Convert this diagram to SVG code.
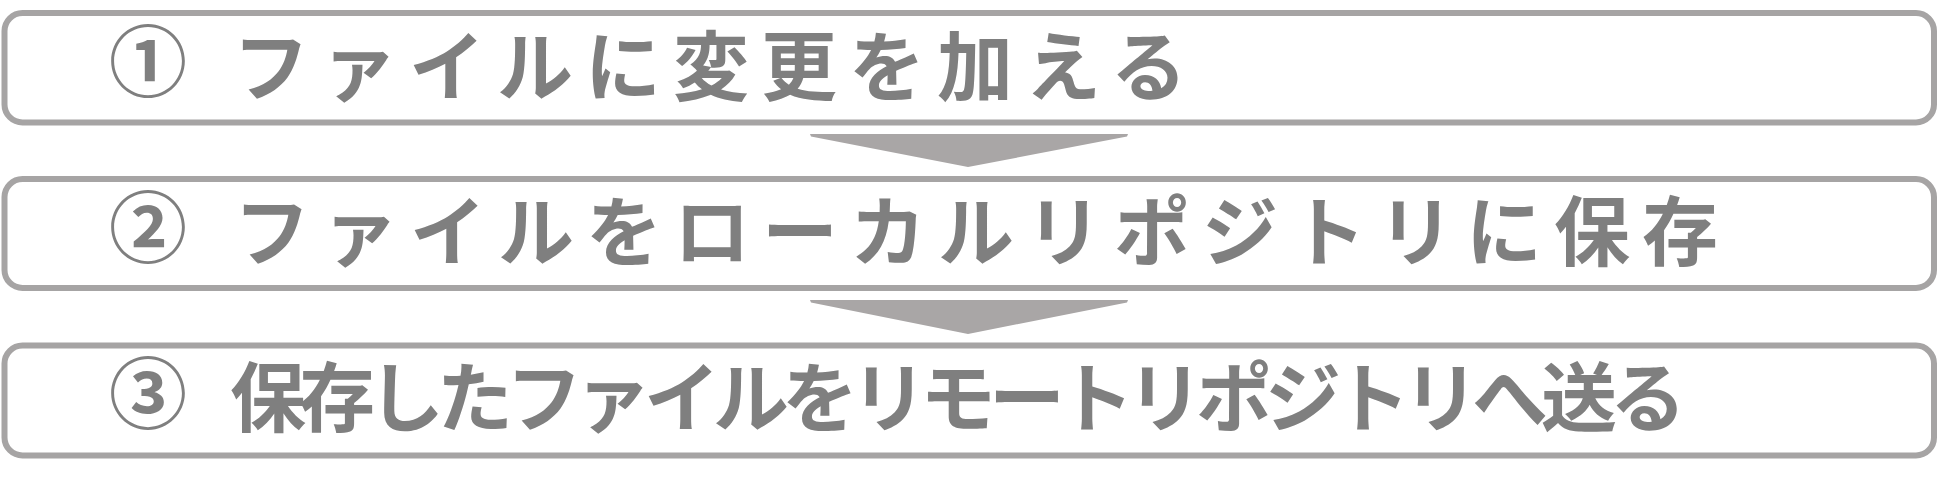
<svg xmlns="http://www.w3.org/2000/svg" width="1938" height="490" viewBox="0 0 1938 490">
<style>
.box{fill:#ffffff;stroke:#a6a4a4;stroke-width:6}
.arrow{fill:#a9a6a6;stroke:none}
.t{font-family:"Noto Sans CJK JP","Noto Sans CJK SC",sans-serif;font-weight:bold;font-size:76px;fill:#7f7f7f}
.num{font-family:"Noto Sans CJK JP","Noto Sans CJK SC",sans-serif;font-weight:bold;font-size:78px;fill:#7f7f7f;text-anchor:middle}
.wide{letter-spacing:12px}
.tight{letter-spacing:-7px}
</style>
<rect width="1938" height="490" fill="#ffffff"/>
<g id="connectors">
<polygon class="arrow" points="810,134 1128,134 1127,136.5 968,167 811,136.5"/>
<polygon class="arrow" points="810,300 1128,300 1127,302.5 968,334 811,302.5"/>
</g>
<g id="step1">
<rect class="box" x="4.5" y="13" width="1929.5" height="109.5" rx="18"/>
<text class="num" x="148" y="91">①</text>
<text class="t wide" x="233" y="95">ファイルに変更を加える</text>
</g>
<g id="step2">
<rect class="box" x="4.5" y="179" width="1929.5" height="109" rx="18"/>
<text class="num" x="148" y="257">②</text>
<text class="t wide" x="234" y="260">ファイルをローカルリポジトリに保存</text>
</g>
<g id="step3">
<rect class="box" x="4.5" y="345.5" width="1929.5" height="110" rx="18"/>
<text class="num" x="148" y="423">③</text>
<text class="t tight" x="230" y="426">保存したファイルをリモートリポジトリへ送る</text>
</g>
</svg>
